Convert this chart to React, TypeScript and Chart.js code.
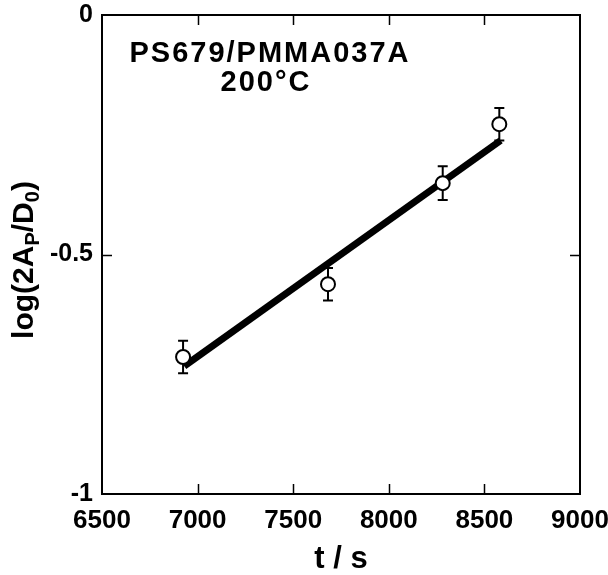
import React, { useEffect, useRef } from "react";
import { Chart, registerables } from "chart.js";

Chart.register(...registerables);

const timeS = [6924, 7682, 8282, 8578];
const logRatio = [-0.714, -0.562, -0.351, -0.228];
const errorBar = [0.034, 0.034, 0.035, 0.034];
const fitT = [6930, 8585];
const fitLog = [-0.733, -0.262];
const xTicks = [6500, 7000, 7500, 8000, 8500, 9000];
const yTicks = [-1, -0.5, 0];
const sampleName = "PS679/PMMA037A";
const temperature = "200°C";
const xTitle = "t / s";

const FONT = "'Liberation Sans', Arial, Helvetica, sans-serif";

const framePlugin = {
  id: "frameTicks",
  beforeDatasetsDraw(chart: any) {
    const { ctx, chartArea } = chart;
    const { left, right, top, bottom } = chartArea;
    const xs = chart.scales.x;
    const ys = chart.scales.y;
    ctx.save();
    ctx.strokeStyle = "#000";
    ctx.lineWidth = 1.5;
    const tl = 10;
    xTicks.forEach((v) => {
      if (v === xTicks[0] || v === xTicks[xTicks.length - 1]) return;
      const px = Math.round(xs.getPixelForValue(v)) + 0.5;
      ctx.beginPath();
      ctx.moveTo(px, bottom);
      ctx.lineTo(px, bottom - tl);
      ctx.moveTo(px, top);
      ctx.lineTo(px, top + tl);
      ctx.stroke();
    });
    yTicks.forEach((v) => {
      if (v === yTicks[0] || v === yTicks[yTicks.length - 1]) return;
      const py = Math.round(ys.getPixelForValue(v)) + 0.5;
      ctx.beginPath();
      ctx.moveTo(left, py);
      ctx.lineTo(left + tl, py);
      ctx.moveTo(right, py);
      ctx.lineTo(right - tl, py);
      ctx.stroke();
    });
    ctx.lineWidth = 2;
    ctx.strokeRect(left, top, right - left, bottom - top);

    // error bars
    ctx.lineWidth = 2;
    const cap = 5;
    timeS.forEach((t, i) => {
      const px = xs.getPixelForValue(t);
      const pHi = ys.getPixelForValue(logRatio[i] + errorBar[i]);
      const pLo = ys.getPixelForValue(logRatio[i] - errorBar[i]);
      ctx.beginPath();
      ctx.moveTo(px, pHi);
      ctx.lineTo(px, pLo);
      ctx.moveTo(px - cap, pHi);
      ctx.lineTo(px + cap, pHi);
      ctx.moveTo(px - cap, pLo);
      ctx.lineTo(px + cap, pLo);
      ctx.stroke();
    });
    ctx.restore();
  },
  afterDraw(chart: any) {
    const { ctx, chartArea } = chart;
    ctx.save();
    ctx.fillStyle = "#000";
    // annotations
    ctx.font = `bold 29px ${FONT}`;
    try { (ctx as any).letterSpacing = "2px"; } catch (e) {}
    ctx.textAlign = "center";
    ctx.textBaseline = "middle";
    ctx.fillText(sampleName, chartArea.left + 168, chartArea.top + 39);
    ctx.fillText(temperature, chartArea.left + 164, chartArea.top + 68);
    try { (ctx as any).letterSpacing = "0px"; } catch (e) {}

    // y title with subscripts
    const segs: [string, boolean][] = [
      ["log(2A", false],
      ["P", true],
      ["/D", false],
      ["0", true],
      [")", false],
    ];
    const mainFont = `bold 30px ${FONT}`;
    const subFont = `bold 20px ${FONT}`;
    let total = 0;
    segs.forEach(([s, sub]) => {
      ctx.font = sub ? subFont : mainFont;
      total += ctx.measureText(s).width;
    });
    ctx.translate(33, 260);
    ctx.rotate(-Math.PI / 2);
    ctx.textAlign = "left";
    ctx.textBaseline = "alphabetic";
    let x = -total / 2;
    segs.forEach(([s, sub]) => {
      ctx.font = sub ? subFont : mainFont;
      ctx.fillText(s, x, sub ? 6 : 0);
      x += ctx.measureText(s).width;
    });
    ctx.restore();
  },
};

export default function App() {
  const ref = useRef<HTMLCanvasElement | null>(null);
  useEffect(() => {
    document.body.style.margin = "0";
    const canvas = ref.current;
    if (!canvas) return;
    const chart = new Chart(canvas, {
      type: "scatter",
      data: {
        datasets: [
          {
            label: "data",
            data: timeS.map((t, i) => ({ x: t, y: logRatio[i] })),
            pointRadius: 7,
            pointBorderWidth: 2,
            pointBackgroundColor: "#fff",
            pointBorderColor: "#000",
            showLine: false,
          },
          {
            label: "fit",
            data: fitT.map((t, i) => ({ x: t, y: fitLog[i] })),
            showLine: true,
            borderColor: "#000",
            borderWidth: 7,
            pointRadius: 0,
            borderCapStyle: "butt",
          },
        ],
      },
      options: {
        responsive: false,
        animation: false,
        events: [],
        layout: { padding: { top: 15, right: 28, left: 0, bottom: 0 } },
        plugins: {
          legend: { display: false },
          tooltip: { enabled: false },
          title: { display: false },
        },
        scales: {
          x: {
            type: "linear",
            min: 6500,
            max: 9000,
            grid: { display: false, drawTicks: false },
            border: { display: false },
            afterBuildTicks: (s: any) => {
              s.ticks = xTicks.map((v) => ({ value: v }));
            },
            ticks: {
              padding: 11,
              color: "#000",
              maxRotation: 0,
              autoSkip: false,
              font: { family: FONT, size: 26, weight: "bold" },
              callback: (v: any) => String(v),
            },
            title: {
              display: true,
              text: xTitle,
              color: "#000",
              padding: { top: 4, bottom: 0 },
              font: { family: FONT, size: 31, weight: "bold", lineHeight: 1.0 },
            },
            afterFit: (s: any) => {
              s.height = 81;
              s.paddingLeft = 0;
              s.paddingRight = 0;
            },
          },
          y: {
            type: "linear",
            min: -1,
            max: 0,
            grid: { display: false, drawTicks: false },
            border: { display: false },
            afterBuildTicks: (s: any) => {
              s.ticks = yTicks.map((v) => ({ value: v }));
            },
            ticks: {
              padding: 9,
              color: "#000",
              autoSkip: false,
              font: { family: FONT, size: 25, weight: "bold" },
              callback: (v: any) => String(v),
            },
            afterFit: (s: any) => {
              s.width = 102;
              s.paddingTop = 0;
              s.paddingBottom = 0;
            },
          },
        },
      },
      plugins: [framePlugin],
    } as any);
    return () => chart.destroy();
  }, []);
  return (
    <div style={{ width: 608, height: 575 }}>
      <canvas ref={ref} width={608} height={575} style={{ display: "block" }} />
    </div>
  );
}
